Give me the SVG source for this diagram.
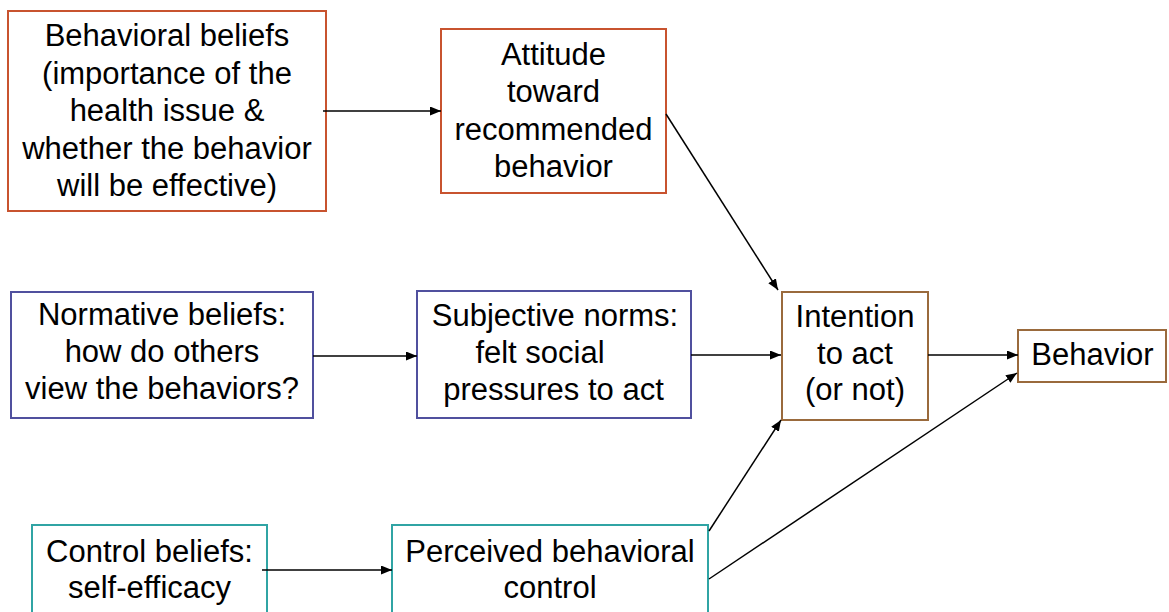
<svg xmlns="http://www.w3.org/2000/svg" width="1169" height="612" viewBox="0 0 1169 612">
<defs>
<style>
.box{fill:#fff;stroke-width:2}
.red{stroke:#c8532f}
.blue{stroke:#50509e}
.brown{stroke:#9a6a3c}
.teal{stroke:#30a4a4}
text{font-family:"Liberation Sans",Arial,sans-serif;font-size:31px;fill:#000;text-anchor:middle}
.conn line{stroke:#000;stroke-width:1.5;marker-end:url(#ah)}
</style>
<marker id="ah" markerUnits="userSpaceOnUse" markerWidth="12" markerHeight="10" refX="11" refY="4.5" orient="auto">
<path d="M0,0 L11,4.5 L0,9 Z" fill="#000"/>
</marker>
</defs>
<rect width="1169" height="612" fill="#fff"/>
<g id="behavioral-beliefs">
<rect class="box red" x="8" y="11" width="318" height="200"/>
<text x="167" y="46">Behavioral beliefs</text>
<text x="167" y="83.5">(importance of the</text>
<text x="167" y="121">health issue &amp;</text>
<text x="167" y="158.5">whether the behavior</text>
<text x="167" y="196">will be effective)</text>
</g>
<g id="attitude">
<rect class="box red" x="441" y="29" width="225" height="164"/>
<text x="553.5" y="65">Attitude</text>
<text x="553.5" y="102">toward</text>
<text x="553.5" y="139.5">recommended</text>
<text x="553.5" y="177">behavior</text>
</g>
<g id="normative-beliefs">
<rect class="box blue" x="11" y="292" width="302" height="126"/>
<text x="162" y="325">Normative beliefs:</text>
<text x="162" y="362">how do others</text>
<text x="162" y="399">view the behaviors?</text>
</g>
<g id="subjective-norms">
<rect class="box blue" x="417" y="291" width="274" height="127"/>
<text x="555" y="326">Subjective norms:</text>
<text x="540" y="363">felt social</text>
<text x="553.5" y="400">pressures to act</text>
</g>
<g id="intention">
<rect class="box brown" x="782" y="292" width="146" height="128"/>
<text x="855" y="327">Intention</text>
<text x="855" y="364">to act</text>
<text x="855" y="400">(or not)</text>
</g>
<g id="behavior">
<rect class="box brown" x="1018" y="330" width="148" height="52"/>
<text x="1092.5" y="365">Behavior</text>
</g>
<g id="control-beliefs">
<rect class="box teal" x="32" y="525" width="235" height="100"/>
<text x="149.5" y="562">Control beliefs:</text>
<text x="149.5" y="598">self-efficacy</text>
</g>
<g id="perceived-control">
<rect class="box teal" x="392" y="525" width="316" height="100"/>
<text x="550" y="562">Perceived behavioral</text>
<text x="550" y="598">control</text>
</g>
<g id="connectors" class="conn">
<line x1="323" y1="111" x2="441" y2="111"/>
<line x1="666" y1="114" x2="778" y2="290"/>
<line x1="313" y1="356" x2="417" y2="356"/>
<line x1="691" y1="355" x2="781" y2="355"/>
<line x1="928" y1="355" x2="1018" y2="355"/>
<line x1="262" y1="570" x2="392" y2="570"/>
<line x1="709" y1="531" x2="781" y2="420"/>
<line x1="709" y1="579" x2="1017" y2="373"/>
</g>
</svg>
